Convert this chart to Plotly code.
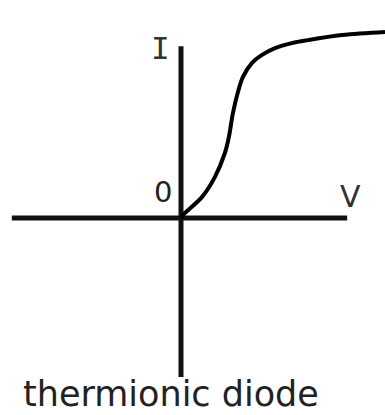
import plotly.graph_objects as go

# Characteristic curve of a thermionic diode (arbitrary units)
voltage = [0.0, 0.12, 0.63, 1.01, 1.31, 1.43, 1.55, 1.70, 1.85, 2.12, 2.42, 2.81, 3.31, 3.79, 4.81, 6.09]
current = [0.0, 0.15, 0.63, 1.22, 1.94, 2.42, 3.13, 3.76, 4.21, 4.63, 4.87, 5.07, 5.22, 5.31, 5.46, 5.55]

# Axis extents
v_axis = [-5.05, 4.96]
i_axis = [-4.75, 5.13]

title_text = "thermionic diode"
x_label = "V"
y_label = "I"
origin_label = "0"

fig = go.Figure()

# axes drawn as lines
fig.add_trace(go.Scatter(x=v_axis, y=[0, 0], mode="lines",
                         line=dict(color="#111111", width=5), hoverinfo="skip"))
fig.add_trace(go.Scatter(x=[0, 0], y=i_axis, mode="lines",
                         line=dict(color="#111111", width=5), hoverinfo="skip"))
# curve
fig.add_trace(go.Scatter(x=voltage, y=current, mode="lines",
                         line=dict(color="#000000", width=4, shape="spline", smoothing=1.0),
                         hoverinfo="skip"))

font = "DejaVu Sans"
fig.add_annotation(x=-0.60, y=5.07, text=y_label, showarrow=False,
                   font=dict(family="DejaVu Sans Mono", size=31, color="#333333"))
fig.add_annotation(x=-0.54, y=0.78, text=origin_label, showarrow=False,
                   font=dict(family=font, size=29, color="#222222"))
fig.add_annotation(x=5.07, y=0.63, text=x_label, showarrow=False,
                   font=dict(family=font, size=30, color="#333333"))
fig.add_annotation(x=-0.30, y=-5.25, text=title_text, showarrow=False,
                   borderpad=0, borderwidth=0,
                   font=dict(family=font, size=35, color="#222222"))

fig.update_layout(
    width=385, height=415,
    margin=dict(l=0, r=0, t=0, b=0),
    paper_bgcolor="white", plot_bgcolor="white",
    showlegend=False,
    xaxis=dict(range=[-5.403, 6.090], visible=False, fixedrange=True),
    yaxis=dict(range=[-5.881, 6.507], visible=False, fixedrange=True),
)

fig.write_html("out.html", config={"displayModeBar": False},
               post_script="document.body.style.margin='0';document.body.style.overflow='hidden';")
